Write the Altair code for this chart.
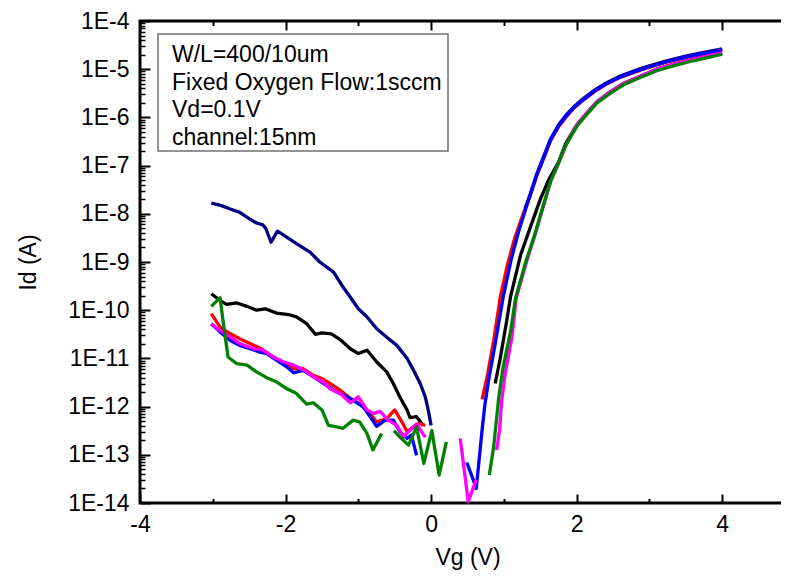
import altair as alt
import pandas as pd

FONT = "Liberation Sans"
FS = 23

# ---- data: Vg (V) and log10(Id / A); None = gap ----
navy_vg = [-3.02, -2.88, -2.76, -2.63, -2.49, -2.40, -2.31, -2.27, -2.20, -2.11, -1.98, -1.85, -1.66, -1.53,
           -1.34, -1.21, -1.11, -1.00, -0.88, -0.75, -0.61, -0.47, -0.33, -0.24, -0.15, -0.08, -0.04, 0.00,
           None,
           1.29, 1.36, 1.45, 1.55, 1.64, 1.75, 1.85, 1.96, 2.10, 2.25, 2.40, 2.60, 2.80, 3.00, 3.25, 3.50, 3.75, 4.00]
navy_log = [-7.78, -7.83, -7.90, -7.97, -8.11, -8.19, -8.23, -8.31, -8.59, -8.36, -8.49, -8.62, -8.80, -9.00,
            -9.21, -9.52, -9.73, -9.97, -10.14, -10.38, -10.56, -10.73, -11.00, -11.25, -11.52, -11.80, -12.07, -12.39,
            None,
            -7.90, -7.60, -7.18, -6.80, -6.45, -6.16, -5.96, -5.78, -5.60, -5.43, -5.29, -5.14, -5.03, -4.93, -4.82,
            -4.73, -4.65, -4.58]

black_vg = [-3.02, -2.90, -2.81, -2.67, -2.53, -2.40, -2.28, -2.12, -1.96, -1.85, -1.71, -1.59, -1.50, -1.37,
            -1.25, -1.11, -1.00, -0.88, -0.75, -0.61, -0.52, -0.43, -0.33, -0.29, -0.20, -0.11,
            None,
            0.88, 0.95, 1.04, 1.09, 1.23, 1.38, 1.50, 1.61, 1.75, 1.85, 2.00, 2.15, 2.28, 2.46, 2.65, 2.85, 3.10,
            3.35, 3.56, 3.80, 4.00]
black_log = [-9.66, -9.80, -9.88, -9.85, -9.92, -10.00, -9.97, -10.06, -10.09, -10.14, -10.28, -10.50, -10.47,
             -10.49, -10.61, -10.80, -10.90, -10.83, -11.07, -11.28, -11.52, -11.80, -12.07, -12.23, -12.21, -12.39,
             None,
             -11.52, -11.00, -10.21, -9.73, -8.85, -8.21, -7.70, -7.31, -6.93, -6.54, -6.16, -5.89, -5.67, -5.47,
             -5.29, -5.16, -5.00, -4.89, -4.81, -4.73, -4.67]

red_vg = [-3.02, -2.90, -2.76, -2.63, -2.49, -2.31, -2.17, -2.03, -1.89, -1.76, -1.62, -1.50, -1.39, -1.25,
          -1.11, -0.98, -0.84, -0.75, -0.61, -0.50, -0.40, -0.33, -0.24, -0.17, -0.08,
          None,
          0.70, 0.77, 0.86, 0.95, 1.05, 1.15, 1.27, 1.36, 1.45, 1.55, 1.64, 1.75, 1.85, 1.96, 2.10, 2.25, 2.40,
          2.60, 2.80, 3.00, 3.25, 3.50, 3.75, 4.00]
red_log = [-10.07, -10.35, -10.49, -10.59, -10.69, -10.82, -10.97, -11.09, -11.21, -11.21, -11.35, -11.42,
           -11.52, -11.66, -11.83, -11.94, -12.14, -12.32, -12.25, -12.07, -12.32, -12.52, -12.42, -12.35, -12.39,
           None,
           -11.85, -11.38, -10.63, -9.73, -9.05, -8.50, -7.98, -7.63, -7.22, -6.84, -6.49, -6.20, -6.00, -5.81,
           -5.63, -5.46, -5.32, -5.17, -5.06, -4.96, -4.85, -4.76, -4.68, -4.61]

blue_vg = [-3.02, -2.90, -2.76, -2.63, -2.49, -2.35, -2.26, -2.12, -1.98, -1.89, -1.76, -1.62, -1.48, -1.34,
           -1.21, -1.07, -0.93, -0.82, -0.75, -0.63, -0.52, -0.43, -0.33, -0.27, -0.20,
           None,
           0.49, 0.58, 0.62, 0.65, 0.70, 0.74, 0.79, 0.88, 0.99, 1.10, 1.20, 1.30, 1.36, 1.45, 1.55, 1.64, 1.75,
           1.85, 1.96, 2.10, 2.25, 2.40, 2.60, 2.80, 3.00, 3.25, 3.50, 3.75, 4.00]
blue_log = [-10.28, -10.45, -10.63, -10.73, -10.80, -10.87, -10.90, -11.04, -11.18, -11.30, -11.25, -11.38,
            -11.52, -11.66, -11.76, -11.87, -12.01, -12.25, -12.41, -12.28, -12.28, -12.52, -12.66, -12.59, -13.01,
            None,
            -13.16, -13.52, -13.70, -13.25, -12.49, -11.95, -11.45, -10.70, -9.73, -8.95, -8.38, -7.90, -7.62,
            -7.20, -6.82, -6.47, -6.18, -5.98, -5.80, -5.62, -5.45, -5.31, -5.16, -5.05, -4.95, -4.84, -4.75,
            -4.67, -4.60]

magenta_vg = [-3.02, -2.90, -2.76, -2.63, -2.44, -2.31, -2.17, -2.03, -1.89, -1.76, -1.62, -1.48, -1.39,
              -1.25, -1.11, -1.00, -0.88, -0.79, -0.70, -0.59, -0.47, -0.38, -0.29, -0.20, -0.13, -0.08,
              None,
              0.40, 0.51, 0.62,
              None,
              0.90, 0.94, 0.97, 1.02, 1.11, 1.17, 1.31, 1.43, 1.54, 1.65, 1.76, 1.86, 2.00, 2.15, 2.28, 2.46,
              2.65, 2.85, 3.10, 3.35, 3.56, 3.80, 4.00]
magenta_log = [-10.29, -10.42, -10.56, -10.69, -10.80, -10.83, -10.97, -11.07, -11.14, -11.23, -11.38, -11.49,
               -11.63, -11.73, -11.92, -11.80, -12.07, -12.14, -12.10, -12.28, -12.39, -12.63, -12.49, -12.36,
               -12.52, -12.64,
               None,
               -12.66, -13.97, -13.52,
               None,
               -12.90, -12.49, -11.87, -11.30, -10.56, -9.75, -9.00, -8.43, -7.86, -7.30, -6.92, -6.55, -6.16,
               -5.89, -5.67, -5.47, -5.29, -5.16, -5.00, -4.89, -4.81, -4.73, -4.66]

green_vg = [-3.02, -2.90, -2.86, -2.79, -2.67, -2.53, -2.40, -2.26, -2.12, -1.98, -1.85, -1.71, -1.62, -1.50,
            -1.41, -1.30, -1.21, -1.07, -0.98, -0.88, -0.80, -0.68,
            None,
            -0.51, -0.43, -0.31, -0.20, -0.10, 0.01, 0.11, 0.21,
            None,
            0.80, 0.86, 0.93, 0.99, 1.09, 1.16, 1.30, 1.42, 1.53, 1.64, 1.75, 1.85, 2.00, 2.15, 2.28, 2.46, 2.65,
            2.85, 3.10, 3.35, 3.56, 3.80, 4.00]
green_log = [-9.92, -9.74, -10.21, -10.97, -11.11, -11.14, -11.28, -11.40, -11.49, -11.63, -11.73, -11.95,
             -11.92, -12.07, -12.39, -12.42, -12.45, -12.28, -12.32, -12.56, -12.90, -12.56,
             None,
             -12.50, -12.63, -12.80, -12.42, -13.18, -12.50, -13.42, -12.73,
             None,
             -13.42, -12.83, -11.80, -11.18, -10.45, -9.75, -9.00, -8.45, -7.88, -7.33, -6.95, -6.58, -6.19,
             -5.92, -5.70, -5.50, -5.32, -5.19, -5.03, -4.92, -4.84, -4.76, -4.69]

series_names = ["black", "red", "navy", "blue", "magenta", "green"]   # drawing order
series_colors = ["#000000", "#FF0000", "#000080", "#0000FF", "#FF00FF", "#008000"]
series_data = {
    "navy": (navy_vg, navy_log), "black": (black_vg, black_log), "red": (red_vg, red_log),
    "blue": (blue_vg, blue_log), "magenta": (magenta_vg, magenta_log), "green": (green_vg, green_log),
}

x_major = [-4, -2, 0, 2, 4]
x_minor = [-3, -1, 1, 3]
y_exponents = [-14, -13, -12, -11, -10, -9, -8, -7, -6, -5, -4]
y_minor_mult = [2, 3, 4, 5, 6, 7, 8, 9]
y_major = [10.0 ** e for e in y_exponents]
y_minor = [m * 10.0 ** e for e in y_exponents[:-1] for m in y_minor_mult]

note_lines = ["W/L=400/10um", "Fixed Oxygen Flow:1sccm", "Vd=0.1V", "channel:15nm"]

# ---- build table ----
rows = []
for name in series_names:
    vg, lg = series_data[name]
    seg = 0
    for i, (v, l) in enumerate(zip(vg, lg)):
        if v is None:
            seg += 1
            continue
        rows.append({"series": name, "seg": f"{name}_{seg}", "order": i, "vg": v, "id": 10.0 ** l})
df = pd.DataFrame(rows)

x_scale = alt.Scale(domain=[-4, 5], nice=False, zero=False)
y_scale = alt.Scale(type="log", domain=[1e-14, 1e-4], nice=False)

common = dict(domain=False, grid=False, tickColor="black", labelFlush=False, labelOverlap=False)
lab = dict(labelFont=FONT, labelFontSize=FS, labelColor="black")
ttl = dict(titleFont=FONT, titleFontSize=FS, titleFontWeight="normal", titleColor="black")


def axis_layer(xaxis, yaxis):
    return alt.Chart(df).mark_point(opacity=0).encode(
        x=alt.X("vg:Q", scale=x_scale, axis=xaxis),
        y=alt.Y("id:Q", scale=y_scale, axis=yaxis),
    )


ax_main = axis_layer(
    alt.Axis(orient="bottom", values=x_major, labelExpr="'' + datum.value", title="Vg (V)",
             tickSize=alt.ExprRef(expr="-9"), tickWidth=2, labelPadding=19, labelBaseline="top",
             titleY=54, titleBaseline="middle", **common, **lab, **ttl),
    alt.Axis(orient="left", values=y_major, labelExpr="'1E' + round(log(datum.value) / LN10)",
             title="Id (A)", tickSize=alt.ExprRef(expr="-10"), tickWidth=2, labelPadding=21,
             titleX=-112, titleY=241, titleAngle=270, titleBaseline="middle", **common, **lab, **ttl),
)
ax_minor = axis_layer(
    alt.Axis(orient="bottom", values=x_minor, labels=False, title=None,
             tickSize=alt.ExprRef(expr="-4.5"), tickWidth=2, **common),
    alt.Axis(orient="left", values=y_minor, labels=False, title=None,
             tickSize=alt.ExprRef(expr="-5"), tickWidth=1.5, **common),
)
ax_top = axis_layer(
    alt.Axis(orient="top", values=x_major, labels=False, title=None,
             tickSize=alt.ExprRef(expr="-9"), tickWidth=2, **common),
    alt.Axis(orient="right", values=y_major, labels=False, title=None,
             tickSize=alt.ExprRef(expr="-10"), tickWidth=2, **common),
)
ax_top_minor = axis_layer(
    alt.Axis(orient="top", values=x_minor, labels=False, title=None,
             tickSize=alt.ExprRef(expr="-4.5"), tickWidth=2, **common),
    alt.Axis(orient="right", values=y_minor, labels=False, title=None,
             tickSize=alt.ExprRef(expr="-5"), tickWidth=1.5, **common),
)

series_layers = []
for name, col in zip(series_names, series_colors):
    series_layers.append(
        alt.Chart(df[df["series"] == name]).mark_line(strokeWidth=3.3, color=col, strokeJoin="round").encode(
            x=alt.X("vg:Q", scale=x_scale, axis=None),
            y=alt.Y("id:Q", scale=y_scale, axis=None),
            detail="seg:N",
            order="order:Q",
        )
    )

one = pd.DataFrame({"k": [0]})
box = alt.Chart(one).mark_rect(fill="white", stroke="#707070", strokeWidth=1.5).encode(
    x=alt.value(18), x2=alt.value(308), y=alt.value(13), y2=alt.value(130)
)
note_y = [34, 61.5, 89, 117]
note_layers = [
    alt.Chart(one).mark_text(text=t, font=FONT, fontSize=FS, color="black", align="left",
                             baseline="middle").encode(x=alt.value(32), y=alt.value(yy))
    for t, yy in zip(note_lines, note_y)
]

chart = alt.layer(
    ax_main, ax_minor, ax_top, ax_top_minor, *series_layers, box, *note_layers
).resolve_scale(x="shared", y="shared").resolve_axis(x="independent", y="independent").properties(
    width=655, height=482,
    autosize=alt.AutoSizeParams(type="none"),
    padding={"left": 132, "top": 13, "right": -14, "bottom": 69},
    background="white",
).configure_view(stroke="black", strokeWidth=3)

chart.save("out.html", embed_options={"renderer": "svg", "actions": False})
